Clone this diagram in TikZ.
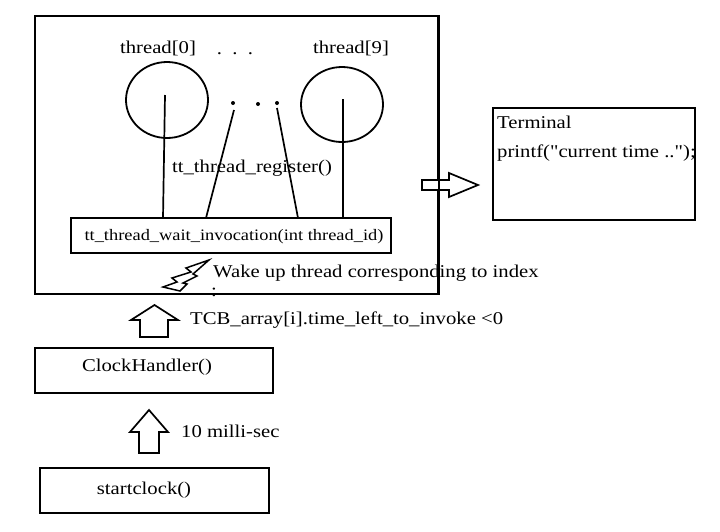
\documentclass[tikz,border=0pt]{standalone}
\usepackage{fontspec}
\setmainfont{Liberation Serif}[FakeStretch=1.15, Ligatures=TeXOff]
\usetikzlibrary{shapes.geometric}
\tikzset{
  box/.style={draw, line width=1.7pt, inner sep=0pt},
  lbl/.style={inner sep=0pt, font=\fontsize{18}{22}\selectfont},
  smlbl/.style={inner sep=0pt, font=\fontsize{16}{19}\selectfont},
  ln/.style={line width=1.7pt},
  thr/.style={draw, ellipse, line width=1.8pt, inner sep=0pt},
  dotn/.style={fill, circle, inner sep=0pt, minimum size=4pt},
  barrow/.style={draw, line width=1.7pt, fill=white, line join=miter}
}
\begin{document}
\begin{tikzpicture}[x=1pt, y=-1pt]
\useasboundingbox (0,0) rectangle (720,531);
% outer box
\node[box, minimum width=403pt, minimum height=278pt] (outer) at (236.5,155) {};
% threads
\node[thr, minimum width=82pt, minimum height=76pt] (t0) at (167,100) {};
\node[thr, minimum width=82pt, minimum height=75pt] (t9) at (342,104.5) {};
\node[lbl] (t0l) at (158,48) {thread[0]};
\node[lbl, anchor=base] (tdots) at (235,54) {.\ \ .\ \ .};
\node[lbl] (t9l) at (351,48) {thread[9]};
\node[dotn] (d1) at (233,103) {};
\node[dotn] (d2) at (258,104) {};
\node[dotn] (d3) at (277,103) {};
% wait box
\node[box, minimum width=320pt, minimum height=35pt] (wait) at (231,235.5) {};
\node[smlbl] (waitl) at (234,237) {tt\_thread\_wait\_invocation(int thread\_id)};
\node[lbl] (reg) at (252,168) {tt\_thread\_register()};
% connectors
\coordinate (a0) at (165,95);  \coordinate (b0) at (163,218);
\coordinate (a1) at (234,110); \coordinate (b1) at (206,218);
\coordinate (a2) at (277,108); \coordinate (b2) at (298,218);
\coordinate (a3) at (343,99);  \coordinate (b3) at (343,218);
\draw[ln] (a0) -- (b0);
\draw[ln] (a1) -- (b1);
\draw[ln] (a2) -- (b2);
\draw[ln] (a3) -- (b3);
% terminal
\node[box, minimum width=202pt, minimum height=112pt] (term) at (594,164) {};
\node[lbl, anchor=west] (terml) at (497,122) {Terminal};
\node[lbl, anchor=west] (printl) at (497,153) {printf("current time ..");};
% right block arrow
\draw[barrow] (422,180) -- (449,180) -- (449,173) -- (478,185) -- (449,197) -- (449,190) -- (422,190) -- cycle;
\draw[ln] (outer.north east) -- (outer.south east);
% bolt
\draw[line width=1.5pt, line join=miter, fill=white] (209,260) -- (186,268) -- (191,272) -- (172,278) -- (177,282) -- (163,287) -- (180,291) -- (187,284) -- (183,283) -- (197,276) -- (193,274) -- cycle;
\node[lbl, anchor=west] (wake) at (213,273) {Wake up thread corresponding to index};
\node[lbl] (colon) at (214,292) {:};
% up arrow 1
\draw[barrow] (154.5,305) -- (178,320) -- (168,320) -- (168,337) -- (140,337) -- (140,320) -- (131,320) -- cycle;
\node[lbl, anchor=west] (tcb) at (190,320) {TCB\_array[i].time\_left\_to\_invoke <0};
% clock handler
\node[box, minimum width=238pt, minimum height=45pt] (clk) at (154,370.5) {};
\node[lbl] (clkl) at (147,367) {ClockHandler()};
% up arrow 2
\draw[barrow] (149,410) -- (168,432) -- (159,432) -- (159,453) -- (139,453) -- (139,432) -- (130,432) -- cycle;
\node[lbl, anchor=west] (ms) at (181,431) {10 milli-sec};
% startclock
\node[box, minimum width=229pt, minimum height=45pt] (sc) at (154.5,490.5) {};
\node[lbl] (scl) at (144,490) {startclock()};
\end{tikzpicture}
\end{document}
